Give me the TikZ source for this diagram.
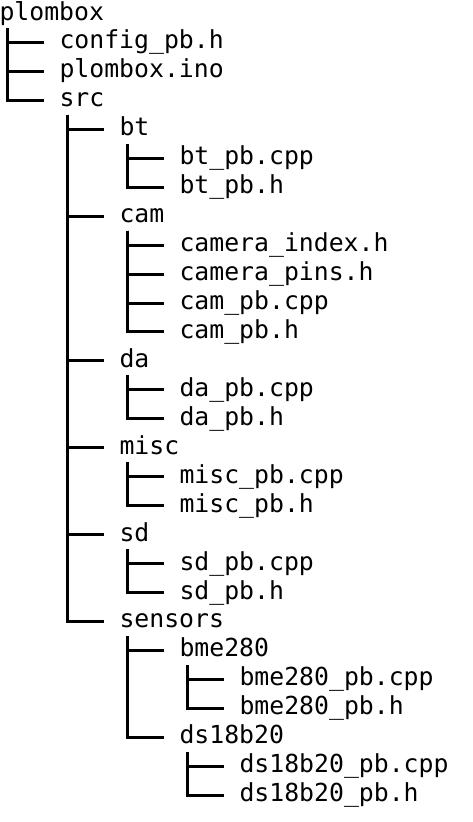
\documentclass[tikz,border=0pt]{standalone}
\usepackage{fontspec}
\newfontfamily\monof{DejaVu Sans Mono}
\tikzset{
  fitem/.style={anchor=west, inner sep=0pt, outer sep=0pt, text height=19pt, text depth=6pt, minimum height=29pt, font=\monof\fontsize{24.8}{29}\selectfont, text=black},
  tline/.style={draw=black, line width=3pt}
}
\newcommand\fitemnode[4]{\node[fitem] (#1) at ({60*#3-0.5},{-(13.5+28.95*#2)}) {#4};}
\newcommand\treeedge[2]{\draw[tline] ([xshift=8pt]#1.south west) |- ([xshift=-16pt]#2.west);}
\begin{document}
\begin{tikzpicture}[x=1pt,y=1pt]
\useasboundingbox (0,0) rectangle (473,-822);
\fitemnode{root}{0}{0}{plombox}
\fitemnode{config}{1}{1}{config\_pb.h}
\fitemnode{ino}{2}{1}{plombox.ino}
\fitemnode{src}{3}{1}{src}
\fitemnode{bt}{4}{2}{bt}
\fitemnode{btcpp}{5}{3}{bt\_pb.cpp}
\fitemnode{bth}{6}{3}{bt\_pb.h}
\fitemnode{cam}{7}{2}{cam}
\fitemnode{camidx}{8}{3}{camera\_index.h}
\fitemnode{campins}{9}{3}{camera\_pins.h}
\fitemnode{camcpp}{10}{3}{cam\_pb.cpp}
\fitemnode{camh}{11}{3}{cam\_pb.h}
\fitemnode{da}{12}{2}{da}
\fitemnode{dacpp}{13}{3}{da\_pb.cpp}
\fitemnode{dah}{14}{3}{da\_pb.h}
\fitemnode{misc}{15}{2}{misc}
\fitemnode{misccpp}{16}{3}{misc\_pb.cpp}
\fitemnode{misch}{17}{3}{misc\_pb.h}
\fitemnode{sd}{18}{2}{sd}
\fitemnode{sdcpp}{19}{3}{sd\_pb.cpp}
\fitemnode{sdh}{20}{3}{sd\_pb.h}
\fitemnode{sensors}{21}{2}{sensors}
\fitemnode{bme}{22}{3}{bme280}
\fitemnode{bmecpp}{23}{4}{bme280\_pb.cpp}
\fitemnode{bmeh}{24}{4}{bme280\_pb.h}
\fitemnode{ds}{25}{3}{ds18b20}
\fitemnode{dscpp}{26}{4}{ds18b20\_pb.cpp}
\fitemnode{dsh}{27}{4}{ds18b20\_pb.h}
\treeedge{root}{config}
\treeedge{root}{ino}
\treeedge{root}{src}
\treeedge{src}{bt}
\treeedge{src}{cam}
\treeedge{src}{da}
\treeedge{src}{misc}
\treeedge{src}{sd}
\treeedge{src}{sensors}
\treeedge{bt}{btcpp}
\treeedge{bt}{bth}
\treeedge{cam}{camidx}
\treeedge{cam}{campins}
\treeedge{cam}{camcpp}
\treeedge{cam}{camh}
\treeedge{da}{dacpp}
\treeedge{da}{dah}
\treeedge{misc}{misccpp}
\treeedge{misc}{misch}
\treeedge{sd}{sdcpp}
\treeedge{sd}{sdh}
\treeedge{sensors}{bme}
\treeedge{sensors}{ds}
\treeedge{bme}{bmecpp}
\treeedge{bme}{bmeh}
\treeedge{ds}{dscpp}
\treeedge{ds}{dsh}
\end{tikzpicture}
\end{document}
